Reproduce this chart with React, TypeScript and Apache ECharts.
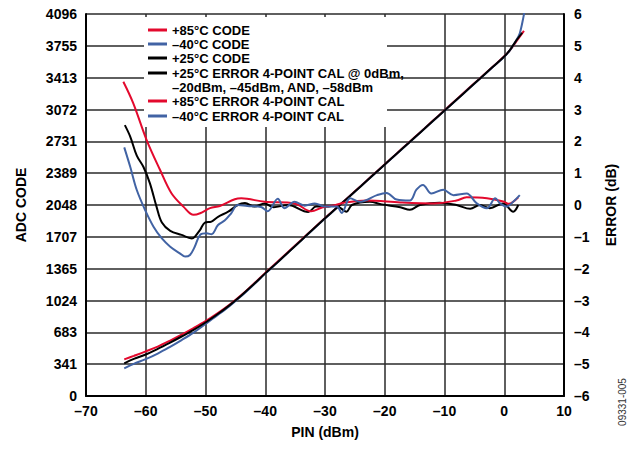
import React, { useEffect, useRef } from "react";
import * as echarts from "echarts";

// Input power (dBm) sample points shared by the three ADC code curves
const codeX = [-63.6, -62, -60, -58, -56, -54, -52, -50, -48, -46, -44, -42, -40, -38, -36, -34, -32, -30, -28, -26, -24, -22, -20, -18, -16, -14, -12, -10, -8, -6, -4, -2, 0, 1, 2];
const code85 = [393, 430, 478, 530, 592, 658, 728, 802, 886, 978, 1082, 1198, 1320, 1438, 1556, 1674, 1792, 1908, 2022, 2137, 2253, 2369, 2485, 2600, 2716, 2832, 2948, 3064, 3180, 3296, 3410, 3526, 3642, 3712, 3800];
const code85TailX = [3.3];
const code85Tail = [3915];
const codeM40 = [297, 345, 395, 455, 525, 600, 680, 772, 866, 964, 1072, 1190, 1312, 1428, 1548, 1666, 1786, 1903, 2018, 2133, 2249, 2365, 2481, 2597, 2712, 2828, 2944, 3059, 3175, 3291, 3406, 3522, 3638, 3712, 3812];
const codeM40TailX = [2.6, 3.2, 3.6];
const codeM40Tail = [3890, 4060, 4200];
const code25 = [350, 398, 445, 505, 570, 638, 708, 788, 876, 972, 1078, 1194, 1315, 1430, 1550, 1668, 1788, 1905, 2020, 2135, 2250, 2366, 2482, 2598, 2713, 2829, 2945, 3060, 3176, 3292, 3408, 3524, 3640, 3715, 3810];
const code25TailX = [3.0];
const code25Tail = [3895];

// Error after 4-point calibration, dB
const err25X = [-63.5, -62.6, -61.5, -60.4, -59.3, -58.2, -57.3, -55.9, -54.0, -52.3, -51.8, -50.9, -50.1, -49.0, -47.9, -46.2, -44.6, -43.4, -41.8, -40.1, -38.6, -36.2, -32.8, -31.5, -29.7, -28.2, -26.4, -25.5, -22.5, -20.5, -17.4, -15.8, -14.1, -10.8, -8.0, -5.7, -4.1, -2.4, -0.2, 1.5, 2.35];
const err25 = [2.51, 2.15, 1.55, 1.2, 0.68, -0.05, -0.55, -0.81, -0.94, -1.05, -1.0, -0.78, -0.55, -0.52, -0.37, -0.21, 0.0, 0.06, -0.05, 0.05, -0.07, 0.0, -0.22, -0.05, -0.05, -0.02, -0.21, 0.0, 0.1, 0.02, -0.07, -0.15, 0.0, 0.07, 0.0, -0.12, 0.0, -0.1, 0.05, -0.21, 0.0];

const err85X = [-63.75, -62.1, -59.85, -57.6, -55.7, -53.7, -52.0, -50.9, -49.25, -47.6, -45.1, -44.0, -40.1, -35.1, -32.3, -30.5, -28.2, -26.9, -23.0, -17.4, -11.9, -8.0, -6.3, -2.9, -0.16, 0.7, 2.35];
const err85 = [3.87, 3.2, 2.04, 1.1, 0.37, -0.05, -0.31, -0.26, -0.1, -0.03, 0.18, 0.21, 0.1, 0.05, -0.2, -0.08, 0.0, 0.07, 0.14, 0.08, 0.05, 0.14, 0.24, 0.21, 0.11, 0.04, 0.24];

const errM40X = [-63.6, -62.6, -61.5, -60.1, -58.7, -57.3, -55.9, -54.3, -53.4, -52.6, -51.8, -50.9, -49.8, -49.0, -47.9, -46.8, -45.7, -44.6, -43.0, -40.7, -39.6, -37.9, -36.8, -35.1, -33.4, -31.7, -30.0, -28.0, -27.2, -25.8, -24.1, -21.3, -19.7, -18.0, -15.8, -14.7, -13.6, -12.2, -10.2, -8.5, -6.3, -4.6, -2.9, -1.5, -0.7, 0.4, 1.5, 2.6];
const errM40 = [1.81, 1.2, 0.47, -0.16, -0.68, -1.05, -1.31, -1.52, -1.62, -1.57, -1.31, -0.94, -0.89, -0.92, -0.63, -0.49, -0.26, 0.0, -0.03, -0.06, -0.2, 0.2, -0.1, 0.1, -0.02, 0.05, -0.05, -0.05, -0.25, 0.21, 0.1, 0.31, 0.38, 0.17, 0.14, 0.48, 0.63, 0.36, 0.48, 0.31, 0.36, 0.05, -0.1, 0.21, 0.05, -0.05, 0.1, 0.31];

// Axis tick labels
const codeTickLabels = ["0", "341", "683", "1024", "1365", "1707", "2048", "2389", "2731", "3072", "3413", "3755", "4096"];

const RED = "#e3092d";
const BLUE = "#4163a4";
const BLACK = "#000000";
const FONT = "Liberation Sans, Arial, sans-serif";

const legendEntries = [
  { label: "+85°C CODE", color: RED },
  { label: "–40°C CODE", color: BLUE },
  { label: "+25°C CODE", color: BLACK },
  { label: "+25°C ERROR 4-POINT CAL @ 0dBm,\n–20dBm, –45dBm, AND, –58dBm", color: BLACK },
  { label: "+85°C ERROR 4-POINT CAL", color: RED },
  { label: "–40°C ERROR 4-POINT CAL", color: BLUE },
];

const zip = (xs: number[], ys: number[]) => xs.map((x, i) => [x, ys[i]]);
const dashNum = (v: number) => (v < 0 ? "–" + Math.abs(v) : String(v));

export default function App() {
  const ref = useRef<HTMLDivElement>(null);

  useEffect(() => {
    if (!ref.current) return;
    const chart = echarts.init(ref.current, null, { renderer: "svg" });

    const splitStyle = { show: true, lineStyle: { color: "#2a2a2a", width: 1.5 } };
    const axisLineStyle = { show: true, onZero: false, lineStyle: { color: "#000", width: 2 } };
    const labelStyle = { color: "#000", fontWeight: "bold" as const, fontSize: 14, fontFamily: FONT };
    const nameStyle = { color: "#000", fontWeight: "bold" as const, fontSize: 14, fontFamily: FONT };

    const lineSeries = (name: string, data: number[][], color: string, yAxisIndex: number, z: number) => ({
      name,
      type: "line",
      data,
      yAxisIndex,
      showSymbol: false,
      smooth: 0.35,
      clip: true,
      z,
      lineStyle: { color, width: 2 },
      itemStyle: { color },
    });

    const legendGraphics: any[] = [
      {
        type: "rect",
        shape: { x: 144, y: 17, width: 243, height: 110 },
        style: { fill: "#fff" },
        z: 50,
      },
    ];
    const rowY = [30, 44, 58, 73, 101, 116];
    legendEntries.forEach((e, i) => {
      legendGraphics.push({
        type: "line",
        shape: { x1: 148, y1: rowY[i], x2: 167, y2: rowY[i] },
        style: { stroke: e.color, lineWidth: 3 },
        z: 51,
      });
      legendGraphics.push({
        type: "text",
        x: 172,
        y: rowY[i] - 7,
        style: {
          text: e.label,
          fill: "#000",
          font: `bold 13px ${FONT}`,
          lineHeight: 14.5,
          verticalAlign: "top",
        },
        z: 51,
      });
    });

    chart.setOption({
      animation: false,
      backgroundColor: "#fff",
      grid: { left: 86, top: 14, width: 478, height: 382, containLabel: false, show: false },
      xAxis: {
        type: "value",
        min: -70,
        max: 10,
        interval: 10,
        axisLine: axisLineStyle,
        axisTick: { show: false },
        splitLine: splitStyle,
        axisLabel: { ...labelStyle, margin: 8, formatter: dashNum },
        name: "PIN (dBm)",
        nameLocation: "middle",
        nameGap: 29,
        nameTextStyle: nameStyle,
      },
      yAxis: [
        {
          // visible left axis, 12 equal code divisions
          type: "value",
          position: "left",
          min: 0,
          max: 12,
          interval: 1,
          axisLine: axisLineStyle,
          axisTick: { show: false },
          splitLine: splitStyle,
          axisLabel: { ...labelStyle, margin: 9, formatter: (v: number) => codeTickLabels[Math.round(v)] },
          name: "ADC CODE",
          nameLocation: "middle",
          nameGap: 58,
          nameRotate: 90,
          nameTextStyle: nameStyle,
        },
        {
          type: "value",
          position: "right",
          min: -6,
          max: 6,
          interval: 1,
          axisLine: axisLineStyle,
          axisTick: { show: false },
          splitLine: { show: false },
          axisLabel: { ...labelStyle, margin: 10, formatter: dashNum },
          name: "ERROR (dB)",
          nameLocation: "middle",
          nameGap: 40,
          nameRotate: 90,
          nameTextStyle: nameStyle,
        },
        {
          // ADC code scale for the code curves
          type: "value",
          position: "left",
          min: 0,
          max: 4096,
          show: false,
          axisLine: { show: false, onZero: false },
          splitLine: { show: false },
        },
      ],
      series: [
        lineSeries("+85°C CODE", zip(codeX.concat(code85TailX), code85.concat(code85Tail)), RED, 2, 3),
        lineSeries("–40°C CODE", zip(codeX.concat(codeM40TailX), codeM40.concat(codeM40Tail)), BLUE, 2, 4),
        lineSeries("+25°C CODE", zip(codeX.concat(code25TailX), code25.concat(code25Tail)), BLACK, 2, 5),
        lineSeries("+25°C ERROR 4-POINT CAL", zip(err25X, err25), BLACK, 1, 6),
        lineSeries("+85°C ERROR 4-POINT CAL", zip(err85X, err85), RED, 1, 7),
        lineSeries("–40°C ERROR 4-POINT CAL", zip(errM40X, errM40), BLUE, 1, 8),
      ],
      graphic: [
        ...legendGraphics,
        {
          type: "text",
          x: 622,
          y: 402,
          rotation: Math.PI / 2,
          style: {
            text: "09331-005",
            fill: "#333",
            font: `10px ${FONT}`,
            align: "center",
            verticalAlign: "middle",
          },
        },
      ],
    });

    return () => chart.dispose();
  }, []);

  return <div ref={ref} style={{ position: "fixed", left: 0, top: 0, width: 634, height: 449 }} />;
}
